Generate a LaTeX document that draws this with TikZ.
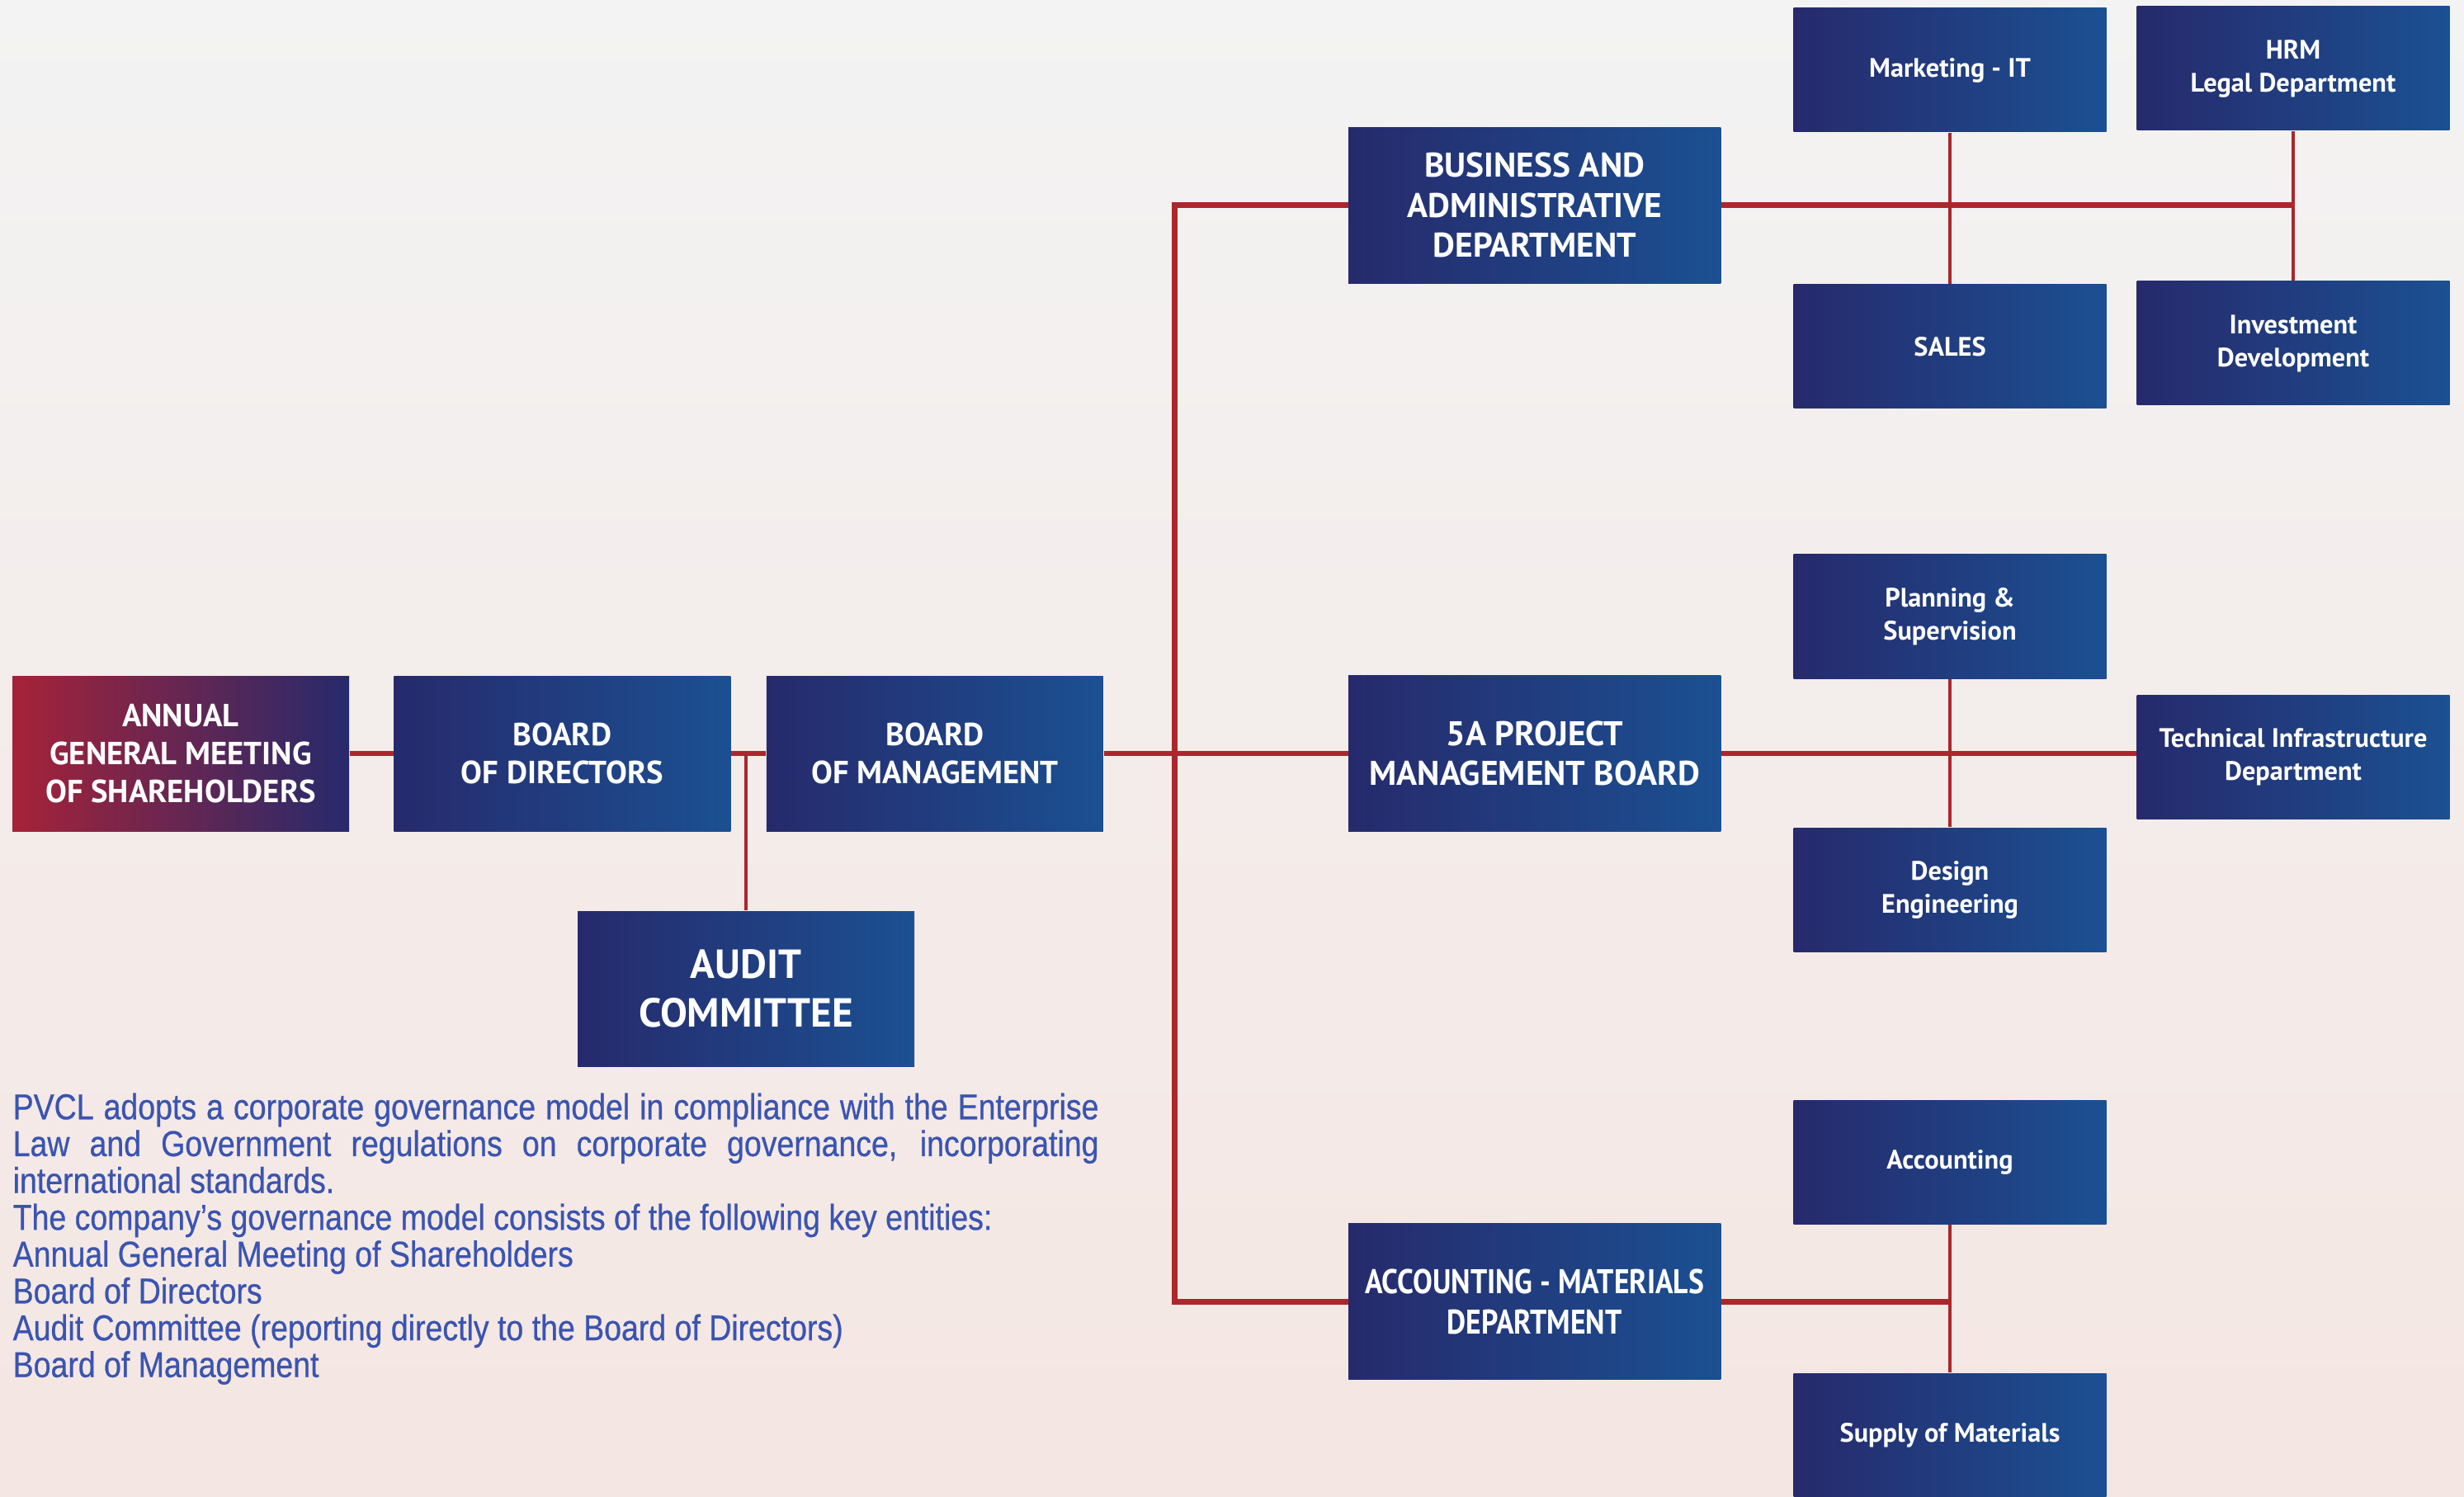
\documentclass[tikz,border=0pt]{standalone}
\usepackage{xcolor}
\usepackage{fontspec}
\usepackage{tikz}
\usetikzlibrary{positioning}

\newfontfamily\boxfont{PT Sans}
\newfontfamily\boxfontnarrow[FakeStretch=0.86]{PT Sans}
\newfontfamily\parafont[FakeStretch=0.86,FakeBold=0.6]{Liberation Sans}
\definecolor{navyL}{RGB}{38,42,108}
\definecolor{navyR}{RGB}{27,80,146}
\definecolor{agmred}{RGB}{166,34,56}
\definecolor{linkred}{RGB}{172,38,44}
\definecolor{textblue}{RGB}{58,84,176}
\definecolor{bgtop}{RGB}{243,243,243}
\definecolor{bgmid}{RGB}{248,247,246}
\definecolor{bgbot}{RGB}{244,230,226}

\begin{document}
\begin{tikzpicture}[
    unit/.style={rectangle, left color=navyL, right color=navyR, text=white, align=center, inner sep=2pt},
    topbox/.style={unit, minimum width=4.08cm, minimum height=1.88cm, font=\boxfont\bfseries\fontsize{11}{13}\selectfont},
    deptbox/.style={unit, minimum width=4.51cm, minimum height=1.89cm, font=\boxfont\bfseries\fontsize{11.8}{13.8}\selectfont},
    subbox/.style={unit, minimum width=3.79cm, minimum height=1.5cm, font=\boxfont\bfseries\fontsize{9.2}{11.4}\selectfont},
    link/.style={draw=linkred, line width=1.8pt},
    thinlink/.style={draw=linkred, line width=1pt},
    node distance=0.5cm]
        % Background
        \shade[top color=bgtop, middle color=bgmid, bottom color=bgbot] (0,0) rectangle (29.86,-18.14);
        \useasboundingbox (0,0) rectangle (29.86,-18.14);

        % Governance row
        \node[topbox, left color=agmred, right color=navyL] (agm) at (2.19,-9.13) {ANNUAL\\GENERAL MEETING\\OF SHAREHOLDERS};
        \node[topbox, right=0.53cm of agm] (bod) {BOARD\\OF DIRECTORS};
        \node[topbox, right=0.42cm of bod] (bom) {BOARD\\OF MANAGEMENT};
        \node[topbox, font=\boxfont\bfseries\fontsize{14}{16.8}\selectfont] (audit) at (9.04,-11.98) {AUDIT\\COMMITTEE};

        % Departments
        \node[deptbox, right=2.96cm of bom] (proj) {5A PROJECT\\MANAGEMENT BOARD};
        \node[deptbox, above=4.74cm of proj] (biz) {BUSINESS AND\\ADMINISTRATIVE\\DEPARTMENT};
        \node[deptbox, below=4.74cm of proj, font=\boxfontnarrow\bfseries\fontsize{11.8}{13.8}\selectfont] (accmat) {ACCOUNTING - MATERIALS\\DEPARTMENT};

        % Units
        \node[subbox] (mkt) at (23.63,-0.85) {Marketing - IT};
        \node[subbox] (hrm) at (27.79,-0.83) {HRM\\Legal Department};
        \node[subbox] (sales) at (23.63,-4.20) {SALES};
        \node[subbox] (invest) at (27.79,-4.16) {Investment\\Development};
        \node[subbox] (plan) at (23.63,-7.47) {Planning \&\\Supervision};
        \node[subbox] (design) at (23.63,-10.78) {Design\\Engineering};
        \node[subbox] (tech) at (27.79,-9.17) {Technical Infrastructure\\Department};
        \node[subbox] (acctg) at (23.63,-14.08) {Accounting};
        \node[subbox] (supply) at (23.63,-17.39) {Supply of Materials};

        % Connectors
        \draw[link] (agm) -- (bod);
        \draw[link] (bod) -- (bom);
        \draw[thinlink] (audit.north) -- (audit.north |- bod.east);
        \draw[link] (bom) -- (proj);
        \draw[link] (biz.west) -- ++(-2.1,0) |- (accmat.west);
        \draw[link] (biz.east) -- (biz.east -| hrm.south);
        \draw[thinlink] (mkt) -- (sales);
        \draw[thinlink] (hrm) -- (invest);
        \draw[link] (proj.east) -- (proj.east -| tech.west);
        \draw[thinlink] (plan) -- (design);
        \draw[link] (accmat.east) -- (accmat.east -| acctg.south);
        \draw[thinlink] (acctg) -- (supply);

        % Description
        \node[anchor=north west, text width=13.16cm, align=justify, inner sep=0pt, text=textblue,
              font=\parafont\fontsize{12.4}{12.7}\selectfont] (intro) at (0.15,-13.24)
            {PVCL adopts a corporate governance model in compliance with the Enterprise\linebreak
             Law and Government regulations on corporate governance, incorporating\linebreak
             international standards.\\
             The company’s governance model consists of the following key entities:\\
             Annual General Meeting of Shareholders\\
             Board of Directors\\
             Audit Committee (reporting directly to the Board of Directors)\\
             Board of Management};
    \end{tikzpicture}
\end{document}
